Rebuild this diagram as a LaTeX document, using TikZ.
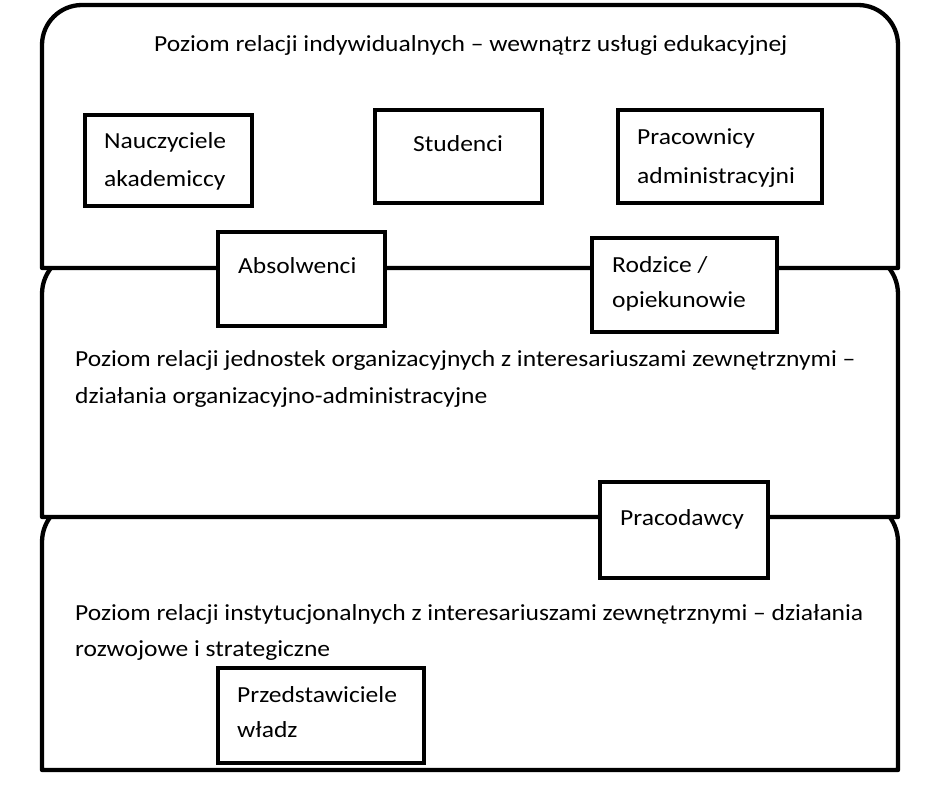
\documentclass[tikz,border=0pt]{standalone}
\usepackage{fontspec}
\setmainfont{Carlito}[FakeStretch=1.11]
\begin{document}
\begin{tikzpicture}[x=1pt,y=-1pt,
  layer/.style={draw=black,fill=white,line width=4.3pt,line join=round},
  box/.style={draw=black,fill=white,line width=4.8pt,rectangle,inner sep=0pt},
  txt/.style={anchor=base west,inner sep=0pt,font=\fontsize{23}{27}\selectfont}]
\useasboundingbox (0,0) rectangle (934,797);
% bottom layer
\draw[layer] (42,770) -- (42,542) arc[start angle=180,end angle=270,radius=42]
  -- (856,500) arc[start angle=270,end angle=360,radius=42] -- (898,770) -- cycle;
% middle layer
\draw[layer] (42,517) -- (42,294) arc[start angle=180,end angle=270,radius=42]
  -- (856,252) arc[start angle=270,end angle=360,radius=42] -- (898,517) -- cycle;
% top layer
\draw[layer] (42,268) -- (42,45) arc[start angle=180,end angle=270,radius=40]
  -- (858,5) arc[start angle=270,end angle=360,radius=40] -- (898,268) -- cycle;
% level texts
\node[txt] (t1) at (154,52) {Poziom relacji indywidualnych – wewnątrz usługi edukacyjnej};
\node[txt] (t2a) at (75,366) {Poziom relacji jednostek organizacyjnych z interesariuszami zewnętrznymi –};
\node[txt] (t2b) at (75,403) {działania organizacyjno-administracyjne};
\node[txt] (t3a) at (75,620) {Poziom relacji instytucjonalnych z interesariuszami zewnętrznymi – działania};
\node[txt] (t3b) at (75,656) {rozwojowe i strategiczne};
% boxes
\node[box,minimum width=167pt,minimum height=91pt] (nau) at (168.5,160.5) {};
\node[txt] (nau1) at (104,148) {Nauczyciele};
\node[txt] (nau2) at (104,186) {akademiccy};
\node[box,minimum width=167pt,minimum height=93pt] (stu) at (458.5,156.5) {};
\node[txt] (stu1) at (413,151) {Studenci};
\node[box,minimum width=204pt,minimum height=93pt] (pra) at (720,156.5) {};
\node[txt] (pra1) at (637,145) {Pracownicy};
\node[txt] (pra2) at (637,183) {administracyjni};
\node[box,minimum width=167pt,minimum height=94pt] (abs) at (301.5,279) {};
\node[txt] (abs1) at (238,273) {Absolwenci};
\node[box,minimum width=185pt,minimum height=94pt] (rod) at (684.5,285) {};
\node[txt] (rod1) at (612,272) {Rodzice /};
\node[txt] (rod2) at (612,307) {opiekunowie};
\node[box,minimum width=168pt,minimum height=96pt] (pcd) at (684,530) {};
\node[txt] (pcd1) at (620,525) {Pracodawcy};
\node[box,minimum width=206pt,minimum height=95pt] (prz) at (321,715.5) {};
\node[txt] (prz1) at (237,702) {Przedstawiciele};
\node[txt] (prz2) at (237,737) {władz};
\end{tikzpicture}
\end{document}
